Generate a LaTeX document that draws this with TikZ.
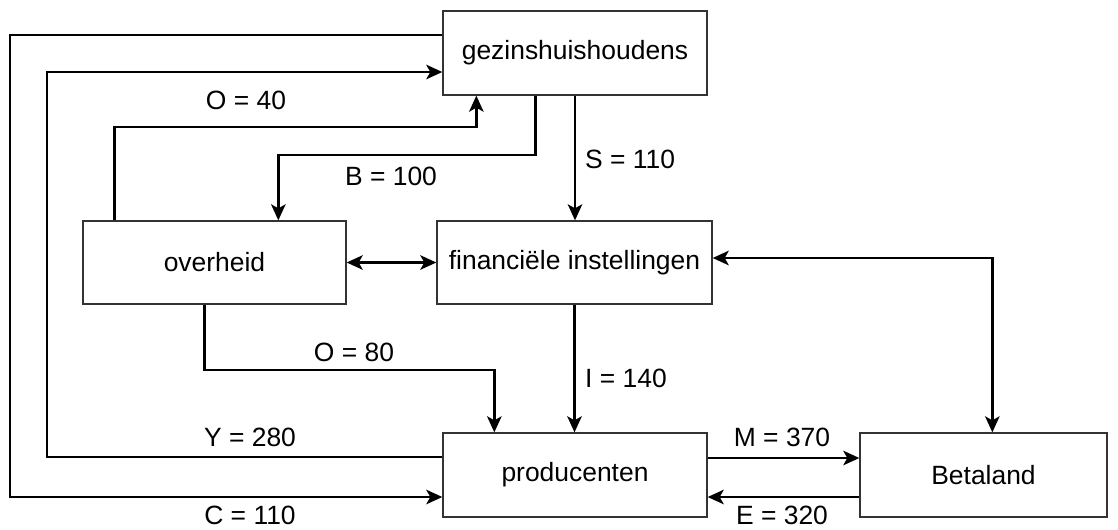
\documentclass[tikz,border=0pt]{standalone}
\usepackage{fontspec}
\setmainfont{Liberation Sans}
\usetikzlibrary{calc,arrows.meta}
\begin{document}
\begin{tikzpicture}[x=0.025cm, y=-0.025cm,
	sector/.style={draw=black!80, line width=0.9pt, fill=white, minimum width=#1, minimum height=2.1cm, inner sep=0pt, font=\fontsize{18.8}{22}\selectfont},
	flow/.style={line width=1.9pt, -{Stealth[length=0.4cm, width=0.36cm, inset=0.1cm]}},
	twoway/.style={line width=1.9pt, {Stealth[length=0.4cm, width=0.36cm, inset=0.1cm]}-{Stealth[length=0.4cm, width=0.36cm, inset=0.1cm]}},
	amount/.style={font=\fontsize{18.8}{22}\selectfont, inner sep=0pt}]
				\useasboundingbox (0,0) rectangle (1118,529);
				\node[sector=6.6cm] (gez) at (575,53) {gezinshuishoudens};
				\node[sector=6.575cm, minimum height=2.075cm] (ovh) at (214.5,262.5) {overheid};
				\node[sector=6.875cm, minimum height=2.075cm] (fin) at (574.5,262.5) {financiële instellingen};
				\node[sector=6.6cm] (prod) at (575,475) {producenten};
				\node[sector=6.175cm] (beta) at (983.5,475) {Betaland};
				\draw[flow] ($(gez.west)+(0,-18)$) -| (10,300) |- ($(prod.west)+(0,22)$);
				\draw[flow] ($(prod.west)+(0,-18)$) -| (47,300) |- ($(gez.west)+(0,19)$);
				\draw[flow] ($(ovh.north west)+(32,0)$) |- (300,127) -| ($(gez.south west)+(34,0)$);
				\draw[flow] ($(gez.south west)+(93,0)$) |- (400,155) -| ($(ovh.north west)+(196,0)$);
				\draw[flow] (gez.south) -- (gez.south |- fin.north);
				\draw[twoway] (ovh.east) -- (fin.west);
				\draw[twoway] ($(fin.east)+(0,-4.5)$) -| ($(beta.north west)+(133,0)$);
				\draw[flow] ($(ovh.south west)+(122,0)$) |- (300,370) -| ($(prod.north west)+(52,0)$);
				\draw[flow] (fin.south) -- (fin.south |- prod.north);
				\draw[flow] ($(prod.east)+(0,-17)$) -- ($(beta.west)+(0,-17)$);
				\draw[flow] ($(beta.west)+(0,22)$) -- ($(prod.east)+(0,22)$);
				\node[amount] (o40) at (246,100) {O = 40};
				\node[amount] (b100) at (391,176) {B = 100};
				\node[amount] (s110) at (630,159) {S = 110};
				\node[amount] (o80) at (354,352) {O = 80};
				\node[amount] (i140) at (626,378) {I = 140};
				\node[amount] (y280) at (250,437) {Y = 280};
				\node[amount] (c110) at (250,515) {C = 110};
				\node[amount] (m370) at (782,437) {M = 370};
				\node[amount] (e320) at (782,515) {E = 320};
\end{tikzpicture}
\end{document}
